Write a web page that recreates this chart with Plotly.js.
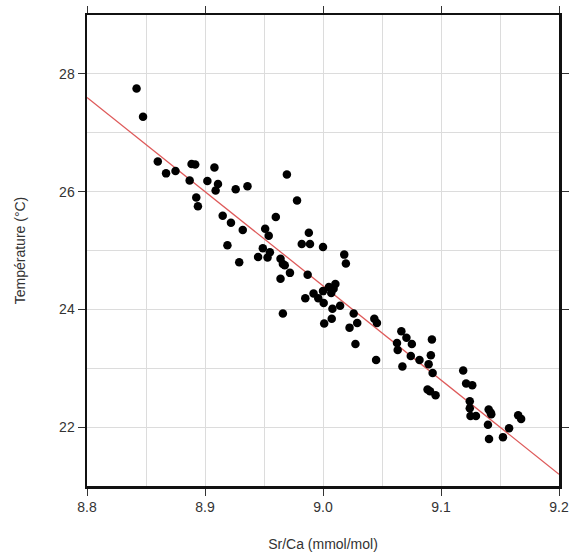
<!DOCTYPE html>
<html>
<head>
<meta charset="utf-8">
<script src="https://cdn.plot.ly/plotly-3.0.1.min.js"></script>
<style>html,body{margin:0;padding:0;background:#fff;}#chart{width:571px;height:555px;}</style>
</head>
<body>
<div id="chart"></div>
<script>
const srca = [8.842, 8.8475, 8.860, 8.867, 8.875, 8.8886, 8.8917, 8.887, 8.902, 8.908,
  8.911, 8.909, 8.8926, 8.894, 8.926, 8.936, 8.915, 8.922, 8.919, 8.932,
  8.929, 8.945, 8.951, 8.954, 8.949, 8.955, 8.953, 8.960, 8.9694, 8.978,
  8.964, 8.966, 8.9676, 8.964, 8.972, 8.966, 8.982, 8.989, 8.988, 9.000,
  8.987, 8.985, 8.992, 8.996, 9.000, 9.0006, 9.001, 9.005, 9.007, 9.009,
  9.0105, 9.008, 9.0074, 9.0145, 9.018, 9.0194, 9.0225, 9.026, 9.029, 9.0275,
  9.0435, 9.0457, 9.045, 9.0627, 9.0633, 9.0664, 9.0673, 9.0707, 9.0753, 9.0744,
  9.0818, 9.0923, 9.0914, 9.0895, 9.0929, 9.0886, 9.0907, 9.0954, 9.1188, 9.1213,
  9.1265, 9.1244, 9.1244, 9.125, 9.1296, 9.1404, 9.142, 9.1426, 9.1398, 9.1407,
  9.1525, 9.1577, 9.1654, 9.1679];
const temperature = [27.75, 27.27, 26.51, 26.31, 26.35, 26.47, 26.46, 26.19, 26.18, 26.41,
  26.13, 26.02, 25.90, 25.75, 26.04, 26.09, 25.59, 25.47, 25.09, 25.35,
  24.80, 24.89, 25.37, 25.25, 25.04, 24.97, 24.88, 25.57, 26.29, 25.85,
  24.86, 24.77, 24.75, 24.52, 24.62, 23.93, 25.11, 25.11, 25.30, 25.06,
  24.59, 24.19, 24.27, 24.19, 24.31, 24.11, 23.76, 24.38, 24.28, 24.35,
  24.43, 24.01, 23.84, 24.06, 24.93, 24.78, 23.69, 23.93, 23.77, 23.41,
  23.84, 23.77, 23.14, 23.43, 23.31, 23.63, 23.03, 23.52, 23.41, 23.21,
  23.14, 23.49, 23.22, 23.07, 22.92, 22.64, 22.61, 22.54, 22.96, 22.74,
  22.71, 22.44, 22.32, 22.19, 22.19, 22.30, 22.25, 22.22, 22.04, 21.80,
  21.83, 21.98, 22.20, 22.14];
const fitX = [8.8, 9.2];
const fitY = [27.6, 21.2];

const traces = [
  {x: fitX, y: fitY, mode: 'lines', type: 'scatter',
   line: {color: 'rgb(222,90,90)', width: 1.3}, hoverinfo: 'skip'},
  {x: srca, y: temperature, mode: 'markers', type: 'scatter',
   marker: {color: '#000', size: 8.5}}
];

const axisCommon = {
  showline: true, linecolor: '#111', linewidth: 2.5, mirror: 'allticks',
  ticks: 'outside', ticklen: 7, tickwidth: 1, tickcolor: '#333',
  showgrid: true, gridcolor: '#dcdcdc', gridwidth: 1, zeroline: false,
  tickfont: {family: 'Liberation Sans, Arial, sans-serif', size: 14, color: '#333'}
};

const layout = {
  width: 571, height: 555,
  margin: {l: 87, r: 12, t: 15, b: 69},
  paper_bgcolor: '#fff', plot_bgcolor: '#fff',
  showlegend: false,
  font: {family: 'Liberation Sans, Arial, sans-serif', color: '#333'},
  xaxis: Object.assign({}, axisCommon, {
    range: [8.8, 9.2], dtick: 0.1, tick0: 8.8, tickformat: '.1f',
    minor: {dtick: 0.05, showgrid: true, gridcolor: '#dcdcdc', ticks: ''},
    title: {text: 'Sr/Ca (mmol/mol)', font: {size: 14, color: '#333'}, standoff: 25}
  }),
  yaxis: Object.assign({}, axisCommon, {
    range: [21, 29], dtick: 2, tick0: 22,
    minor: {dtick: 1, showgrid: true, gridcolor: '#dcdcdc', ticks: ''},
    title: {text: 'Température (°C)', font: {size: 14, color: '#333'}, standoff: 30}
  })
};

Plotly.newPlot('chart', traces, layout, {displayModeBar: false, staticPlot: true});
</script>
</body>
</html>
